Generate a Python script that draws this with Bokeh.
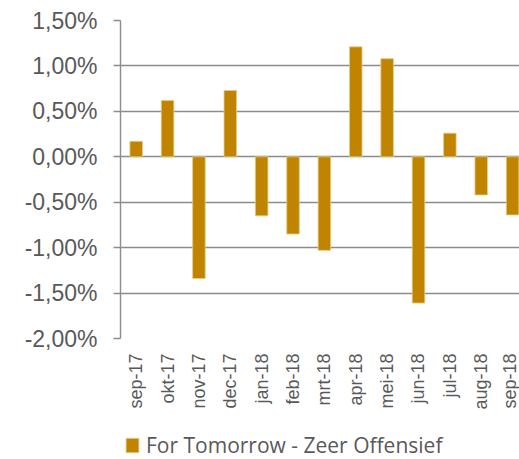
from bokeh.plotting import figure
from bokeh.layouts import column
from bokeh.models import ColumnDataSource, Range1d, FixedTicker, Legend, LegendItem, CustomJSTickFormatter
from bokeh.embed import file_html
from bokeh.resources import INLINE
import math

months = ["sep-17", "okt-17", "nov-17", "dec-17", "jan-18", "feb-18", "mrt-18",
          "apr-18", "mei-18", "jun-18", "jul-18", "aug-18", "sep-18"]
returns = [0.17, 0.62, -1.34, 0.73, -0.65, -0.85, -1.03, 1.21, 1.08, -1.61, 0.26, -0.42, -0.64]
y_ticks = [-2.0, -1.5, -1.0, -0.5, 0.0, 0.5, 1.0, 1.5]
series_name = "For Tomorrow - Zeer Offensief"

bar_color = "#C08400"
bar_edge = "#E6CC86"
grey = "#8C8C8C"
text_grey = "#595959"

src = ColumnDataSource(dict(x=list(range(len(months))), top=returns))

p = figure(width=519, height=419, output_backend="svg", toolbar_location=None,
           x_range=Range1d(-0.5, 12.22), y_range=Range1d(-2.0, 1.5),
           min_border_left=120, min_border_right=0, min_border_top=20, min_border_bottom=81)
p.outline_line_color = None
p.background_fill_color = "white"
p.border_fill_color = "white"

r = p.vbar(x="x", top="top", bottom=0, width=0.4, source=src,
           fill_color=bar_color, line_color=bar_edge, line_width=0.8)

p.xgrid.grid_line_color = None
p.ygrid.grid_line_color = grey
p.ygrid.grid_line_width = 1.4
p.ygrid.ticker = FixedTicker(ticks=y_ticks)

p.yaxis.ticker = FixedTicker(ticks=y_ticks)
p.yaxis.formatter = CustomJSTickFormatter(code="return tick.toFixed(2).replace('.', ',') + '%';")
p.yaxis.axis_line_color = grey
p.yaxis.axis_line_width = 1.4
p.yaxis.major_tick_line_color = grey
p.yaxis.major_tick_line_width = 1.4
p.yaxis.major_tick_out = 7
p.yaxis.major_tick_in = 0
p.yaxis.minor_tick_line_color = None
p.yaxis.major_label_text_font = "Liberation Sans"
p.yaxis.major_label_text_font_size = "23px"
p.yaxis.major_label_text_color = text_grey
p.yaxis.major_label_standoff = 16

p.xaxis.ticker = FixedTicker(ticks=list(range(len(months))))
p.xaxis.major_label_overrides = {i: m for i, m in enumerate(months)}
p.xaxis.axis_line_color = None
p.xaxis.major_tick_line_color = None
p.xaxis.minor_tick_line_color = None
p.xaxis.major_label_orientation = math.pi / 2
p.xaxis.major_label_text_font = "Liberation Sans"
p.xaxis.major_label_text_font_size = "18px"
p.xaxis.major_label_text_color = text_grey
p.xaxis.major_label_standoff = 9

# legend strip below the chart (separate svg figure so it is not clipped)
p2 = figure(width=519, height=40, output_backend="svg", toolbar_location=None,
            x_range=Range1d(0, 1), y_range=Range1d(0, 1),
            min_border=0, min_border_left=0, min_border_right=0,
            min_border_top=0, min_border_bottom=0)
p2.axis.visible = False
p2.grid.visible = False
p2.outline_line_color = None
p2.border_fill_color = "white"
p2.background_fill_color = "white"
r2 = p2.quad(left="x", right="x", top="top", bottom=0, source=src,
             fill_color=bar_color, line_color=bar_edge, line_width=0.8, visible=False)

legend = Legend(items=[LegendItem(label=series_name, renderers=[r2])],
                location=(4, 0), orientation="horizontal")
legend.label_text_font = "Open Sans"
legend.label_text_font_size = "21px"
legend.label_text_color = text_grey
legend.glyph_width = 16
legend.glyph_height = 18
legend.label_standoff = 6
legend.padding = 0
legend.margin = 0
legend.border_line_color = None
legend.background_fill_alpha = 0
legend.inactive_fill_alpha = 0
p2.add_layout(legend, "center")

layout = column(p, p2, spacing=0)
open("out.html", "w").write(file_html(layout, INLINE))
